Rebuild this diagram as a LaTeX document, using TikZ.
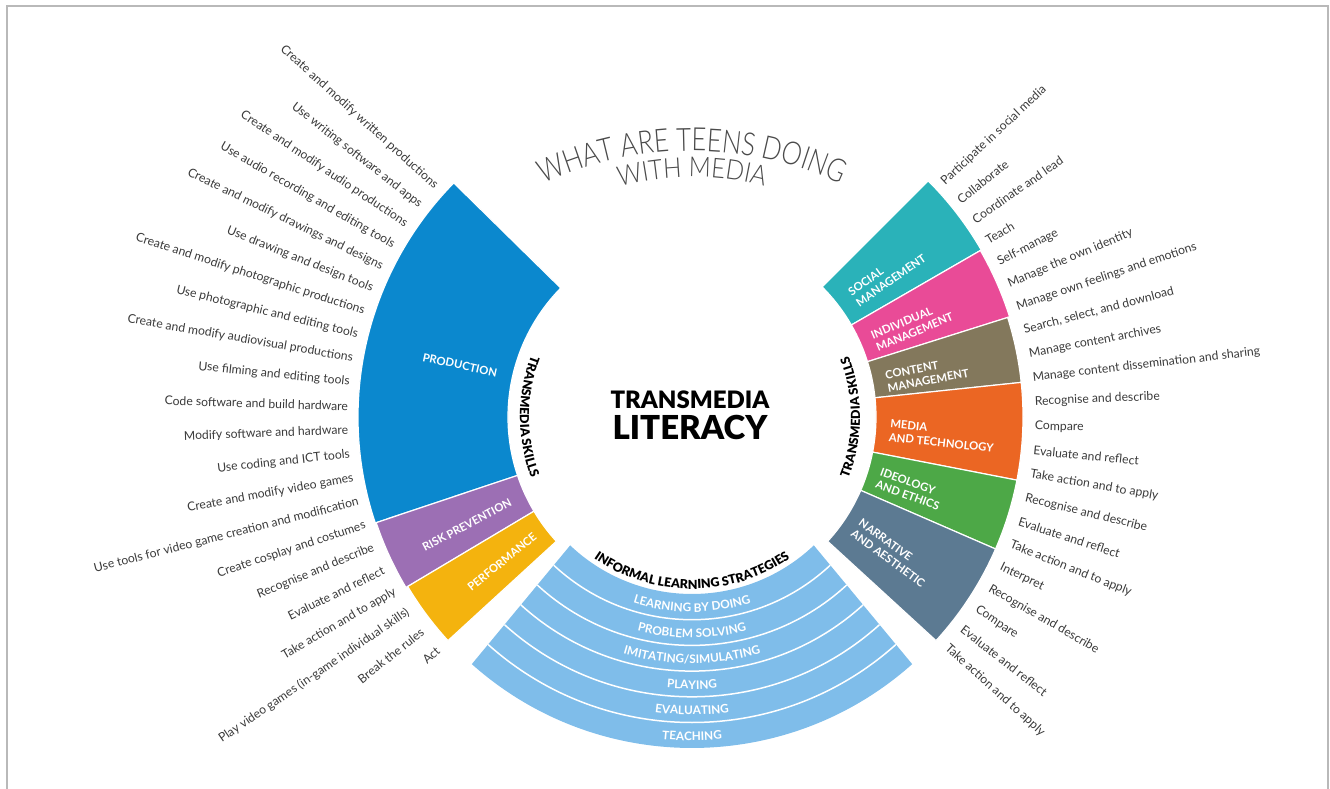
\documentclass[tikz,border=0pt]{standalone}
\usepackage{fontspec}
\setmainfont{Lato}
\newfontfamily\latoblack{Lato Black}
\newfontfamily\titlefont{Lato Light}[FakeStretch=0.8]
\newfontfamily\subtitlefont{Lato Light}[FakeStretch=0.88]
\usepackage{tikz}
\usetikzlibrary{decorations.text}

\definecolor{prodblue}{HTML}{0B88CE}
\definecolor{riskpurple}{HTML}{9C6FB4}
\definecolor{perfyellow}{HTML}{F4B30E}
\definecolor{socialteal}{HTML}{2AB2B9}
\definecolor{indivpink}{HTML}{E94B97}
\definecolor{contentbrown}{HTML}{83785C}
\definecolor{mediaorange}{HTML}{EB6623}
\definecolor{ethicsgreen}{HTML}{4DA847}
\definecolor{narrslate}{HTML}{5C7A92}
\definecolor{bandblue}{HTML}{7FBDEA}
\definecolor{labelgray}{HTML}{3A3A3A}
\definecolor{titlegray}{HTML}{4A4A4A}

\tikzset{
  skill/.style={font=\fontsize{12.2}{14}\selectfont, text=labelgray, inner sep=0pt},
  wedgelabel/.style={font=\bfseries\fontsize{11.3}{13.5}\selectfont, text=white, align=left, inner sep=0pt},
}

% ring piece: colour, from angle, to angle, inner radius, outer radius
\newcommand{\ringpart}[5]{%
  \filldraw[fill=#1, draw=white, line width=1.2pt] (#2:#4) arc[start angle=#2, end angle=#3, radius=#4]
    -- (#3:#5) arc[start angle=#3, end angle=#2, radius=#5] -- cycle;}

\begin{document}
\begin{tikzpicture}[x=1pt,y=1pt]
  \useasboundingbox (-692,-372) rectangle (638,417);
  \draw[gray!55, line width=2pt] (-685,-372) -- (-685,411) -- (636,411) -- (636,-372);
  \coordinate (hub) at (0,0);

  % left wedges
  \ringpart{prodblue}{135.5}{198.5}{184}{334}
  \ringpart{riskpurple}{198.5}{210.8}{184}{333}
  \ringpart{perfyellow}{210.8}{222.5}{184}{331}
  % right wedges
  \ringpart{socialteal}{45}{30}{184}{334}
  \ringpart{indivpink}{30}{17.5}{184}{333}
  \ringpart{contentbrown}{17.5}{6}{184}{331}
  \ringpart{mediaorange}{6}{-11}{184}{331}
  \ringpart{ethicsgreen}{-11}{-23.5}{184}{331}
  \ringpart{narrslate}{-23.5}{-42.5}{184}{331}

  % learning strategy bands
  \begin{scope}
    \clip (226.5:177) -- (228.3:331) arc[start angle=228.3, end angle=311.7, radius=331]
      -- (313.5:177) arc[start angle=313.5, end angle=226.5, radius=177] -- cycle;
    \fill[bandblue] (hub) circle[radius=340];
    \foreach \k in {1,...,5}
      \draw[white, line width=1.5pt] (hub) circle[radius=177+25.7*\k];
  \end{scope}

  \node[wedgelabel, rotate=-12] (prod) at (-232,52) {PRODUCTION};
  \node[wedgelabel, rotate=28] (risk) at (-225,-108) {RISK PREVENTION};
  \node[wedgelabel, rotate=39] (perf) at (-190,-145) {PERFORMANCE};
  \node[wedgelabel, rotate=35] (social) at (195,142) {SOCIAL\\MANAGEMENT};
  \node[wedgelabel, rotate=23] (indiv) at (220,91) {INDIVIDUAL\\MANAGEMENT};
  \node[wedgelabel, rotate=11] (content) at (235,43) {CONTENT\\MANAGEMENT};
  \node[wedgelabel, rotate=-6] (media) at (250,-19) {MEDIA\\AND TECHNOLOGY};
  \node[wedgelabel, rotate=-20] (ethics) at (218,-72) {IDEOLOGY\\AND ETHICS};
  \node[wedgelabel, rotate=-36] (narr) at (200,-136) {NARRATIVE\\AND AESTHETIC};

  % band names
  \path[decorate, decoration={text along path, text align=center,
    text={|\bfseries\fontsize{11.8}{13}\selectfont\color{white}|LEARNING BY DOING}}]
    (240:195) arc[start angle=240, end angle=300, radius=195];
  \path[decorate, decoration={text along path, text align=center,
    text={|\bfseries\fontsize{11.8}{13}\selectfont\color{white}|PROBLEM SOLVING}}]
    (240:220.7) arc[start angle=240, end angle=300, radius=220.7];
  \path[decorate, decoration={text along path, text align=center,
    text={|\bfseries\fontsize{11.8}{13}\selectfont\color{white}|IMITATING/SIMULATING}}]
    (240:246.4) arc[start angle=240, end angle=300, radius=246.4];
  \path[decorate, decoration={text along path, text align=center,
    text={|\bfseries\fontsize{11.8}{13}\selectfont\color{white}|PLAYING}}]
    (240:272.1) arc[start angle=240, end angle=300, radius=272.1];
  \path[decorate, decoration={text along path, text align=center,
    text={|\bfseries\fontsize{11.8}{13}\selectfont\color{white}|EVALUATING}}]
    (240:297.8) arc[start angle=240, end angle=300, radius=297.8];
  \path[decorate, decoration={text along path, text align=center,
    text={|\bfseries\fontsize{11.8}{13}\selectfont\color{white}|TEACHING}}]
    (240:323.5) arc[start angle=240, end angle=300, radius=323.5];

  % inner ring headings
  \path[decorate, decoration={text along path, text align=center,
    text={|\latoblack\fontsize{12.5}{14}\selectfont|TRANSMEDIA SKILLS}}]
    (145:172) arc[start angle=145, end angle=215, radius=172];
  \path[decorate, decoration={text along path, text align=center,
    text={|\latoblack\fontsize{12.5}{14}\selectfont|TRANSMEDIA SKILLS}}]
    (-35:168) arc[start angle=-35, end angle=35, radius=168];
  \path[decorate, decoration={text along path, text align=center,
    text={|\latoblack\fontsize{12.5}{14}\selectfont|INFORMAL LEARNING STRATEGIES}}]
    (220:172) arc[start angle=220, end angle=320, radius=172];

  % title
  \path[shift={(0,-84)}, decorate, decoration={text along path, text align=center,
    text={|\titlefont\fontsize{32}{34}\selectfont\color{titlegray}|WHAT ARE TEENS DOING}}]
    (130:350) arc[start angle=130, end angle=50, radius=350];
  \path[shift={(0,-38)}, decorate, decoration={text along path, text align=center,
    text={|\subtitlefont\fontsize{27.5}{30}\selectfont\color{titlegray}|WITH MEDIA}}]
    (130:278) arc[start angle=130, end angle=50, radius=278];

  \node[font=\latoblack\fontsize{24}{25}\selectfont, inner sep=0pt] (tm) at (-2,17) {TRANSMEDIA};
  \node[font=\latoblack\fontsize{33}{34}\selectfont, inner sep=0pt] (lit) at (-2,-10) {LITERACY};

  % skills around the left side
  \foreach \txt [count=\i from 0] in {Create and modify written productions,
      Use writing software and apps, Create and modify audio productions,
      Use audio recording and editing tools, Create and modify drawings and designs,
      Use drawing and design tools, Create and modify photographic productions,
      Use photographic and editing tools, Create and modify audiovisual productions,
      Use filming and editing tools, Code software and build hardware,
      Modify software and hardware, Use coding and ICT tools,
      Create and modify video games, Use tools for video game creation and modification,
      Create cosplay and costumes, Recognise and describe, Evaluate and reflect,
      Take action and to apply, Play video games (in-game individual skills),
      Break the rules, Act} {
    \pgfmathsetmacro{\ang}{138+4.02*\i}
    \pgfmathsetmacro{\rot}{\ang-180}
    \node[skill, anchor=east, rotate=\rot] (lft\i) at (\ang:344) {\txt};
  }

  % skills around the right side
  \foreach \txt [count=\i from 0] in {Participate in social media, Collaborate,
      Coordinate and lead, Teach, Self-manage, Manage the own identity,
      Manage own feelings and emotions, {Search, select, and download},
      Manage content archives, Manage content dissemination and sharing,
      Recognise and describe, Compare, Evaluate and reflect, Take action and to apply,
      Recognise and describe, Evaluate and reflect, Take action and to apply,
      Interpret, Recognise and describe, Compare, Evaluate and reflect,
      Take action and to apply} {
    \pgfmathsetmacro{\ang}{43-4.05*\i}
    \node[skill, anchor=west, rotate=\ang] (rgt\i) at (\ang:343) {\txt};
  }
\end{tikzpicture}
\end{document}
